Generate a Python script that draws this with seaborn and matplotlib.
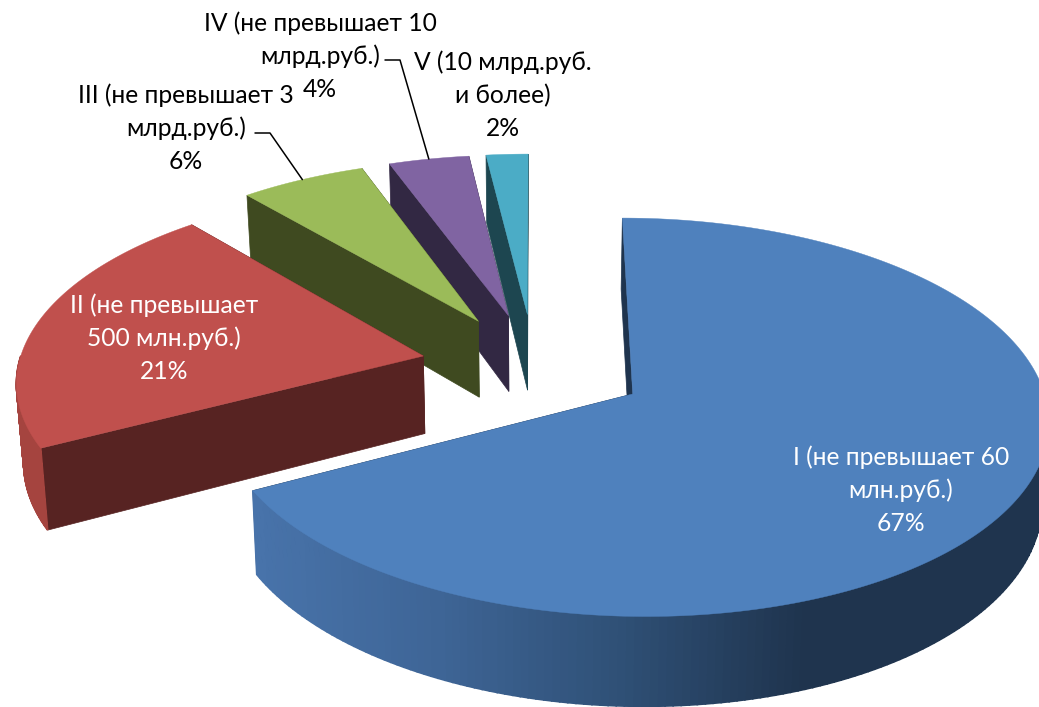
import numpy as np
import seaborn as sns
import matplotlib
matplotlib.use('Agg')
import matplotlib.pyplot as plt

#### exploded 3D pie, seaborn for theme + colours, the projection is done by hand

names = ['I (не превышает 60\nмлн.руб.)', 'II (не превышает\n500 млн.руб.)', 'III (не превышает 3\nмлрд.руб.)',
         'IV (не превышает 10\nмлрд.руб.)', 'V (10 млрд.руб.\nи более)']
shares = [67.3, 21.45, 5.7, 3.65, 1.9]
top_colors = ['#4F81BD', '#C0504D', '#9BBB59', '#8064A2', '#4BACC6']
cut_colors = ['#1F344E', '#572322', '#3F4A20', '#322843', '#1D4650']
rim_colors = ['#1F344E', '#A5443F', '#5A6E30', '#4A3A60', '#2A6070']
draw_order = [3, 4, 2, 1, 0]

# projection settings (screen pixels)
cx, cy = 534, 366
rx, ry = 405, 190
persp = 0.115
depth = 78
explode = 0.28

sns.set_theme(style='white')
plt.rcParams['font.family'] = ['Lato', 'Open Sans', 'DejaVu Sans']


def project(X, Y, z=0.0):
    w = 1 + persp*Y
    return cx + rx*X/w*(1 - 0.014*z), cy - ry*Y/w + depth*z/w


def ring(start, end, mid, r=1.0, n=240):
    th = np.radians(np.linspace(start, end, n))
    off = np.radians(mid)
    return explode*np.sin(off) + r*np.sin(th), explode*np.cos(off) + r*np.cos(th)


fig = plt.figure(figsize=(10.39, 7.07), dpi=100)
ax = fig.add_axes([0, 0, 1, 1])
ax.set_xlim(0, 1039)
ax.set_ylim(707, 0)
ax.axis('off')

blue_ramp = sns.blend_palette(['#4873AA', '#3E6596', '#2F5076', '#1F344E'], 200)

edges = np.cumsum([0] + shares)*3.6
mids = (edges[:-1] + edges[1:])/2

for i in draw_order:
    start, end, mid = edges[i], edges[i+1], mids[i]
    X, Y = ring(start, end, mid)
    ox, oy = ring(mid, mid, mid, r=0.0, n=1)

    # the two cut walls
    for px, py in [(X[0], Y[0]), (X[-1], Y[-1])]:
        wx = np.array([ox[0], px, px, ox[0]])
        wy = np.array([oy[0], py, py, oy[0]])
        wz = np.array([0, 0, 1, 1])
        sx, sy = project(wx, wy, wz)
        ax.fill(sx, sy, color=cut_colors[i], lw=0.5)

    # outer wall, only the part that looks at the viewer
    for j in range(len(X) - 1):
        thm = np.radians(start + (end - start)*(j + 0.5)/(len(X) - 1))
        if np.cos(thm) > 0:
            continue
        sx, sy = project(np.array([X[j], X[j+1], X[j+1], X[j]]), np.array([Y[j], Y[j+1], Y[j+1], Y[j]]), np.array([0, 0, 1, 1]))
        col = rim_colors[i]
        if i == 0:
            frac = np.clip((sx.mean() - 255)/(800 - 255), 0, 1)
            col = blue_ramp[int(frac*199)]
        ax.fill(sx, sy, color=col, lw=1.2)

    # top face
    sx, sy = project(np.r_[ox, X], np.r_[oy, Y])
    ax.fill(sx, sy, color=top_colors[i], lw=0.3)

# labels
label_xy = [(901, 490), (164, 338), (186, 128), (320, 56), (503, 95)]
label_colors = ['white', 'white', 'black', 'black', 'black']
for i, name in enumerate(names):
    ax.text(label_xy[i][0], label_xy[i][1], name + '\n' + str(round(shares[i])) + '%', ha='center', va='center',
            fontsize=17.7, color=label_colors[i], linespacing=1.5)

# leader lines of III and IV go to the middle of the arc
for i, elbow in [(2, [(255, 133), (270, 133)]), (3, [(385, 60), (400, 60)])]:
    gx, gy = ring(mids[i], mids[i], mids[i], n=1)
    ex, ey = project(gx, gy)
    ax.plot([elbow[0][0], elbow[1][0], ex[0]], [elbow[0][1], elbow[1][1], ey[0]], color='black', lw=1.1)

plt.savefig('out.png', dpi=100)
plt.close()
